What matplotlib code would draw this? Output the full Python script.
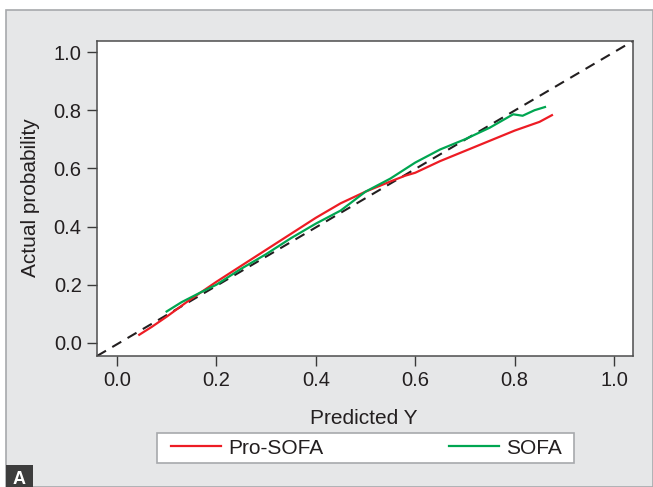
# Calibration plot: Pro-SOFA vs SOFA

import numpy as np
import matplotlib.pyplot as plt
from matplotlib.patches import Rectangle

plt.rcParams['font.family'] = ['Liberation Sans', 'DejaVu Sans']

# values
pro_x = [0.045, 0.07, 0.10, 0.14, 0.17, 0.20, 0.25, 0.30, 0.35, 0.40, 0.45, 0.50, 0.55, 0.58, 0.60, 0.65, 0.70, 0.75, 0.80, 0.85, 0.875]
pro_y = [0.028, 0.055, 0.09, 0.14, 0.175, 0.21, 0.265, 0.32, 0.375, 0.43, 0.48, 0.52, 0.555, 0.575, 0.585, 0.625, 0.66, 0.695, 0.73, 0.76, 0.783]

sofa_x = [0.10, 0.13, 0.17, 0.20, 0.25, 0.30, 0.35, 0.40, 0.45, 0.50, 0.55, 0.60, 0.65, 0.70, 0.75, 0.797, 0.816, 0.84, 0.861]
sofa_y = [0.108, 0.14, 0.175, 0.20, 0.255, 0.305, 0.36, 0.41, 0.455, 0.52, 0.565, 0.62, 0.665, 0.70, 0.74, 0.786, 0.781, 0.80, 0.811]

ticks = [0.0, 0.2, 0.4, 0.6, 0.8, 1.0]
tick_labels = ['0.0', '0.2', '0.4', '0.6', '0.8', '1.0']

W, H = 653, 487
fig = plt.figure(figsize=(W/100, H/100), dpi=100)
fig.patch.set_facecolor('white')

# gray panel behind the chart
panel = Rectangle((6/W, 0), 1 - 6/W, 1 - 10/H, transform=fig.transFigure,
                  facecolor='#e6e7e8', edgecolor='#a7a9ac', linewidth=1.2, zorder=-5)
fig.patches.append(panel)

ax = fig.add_axes([97/W, 1 - 356/H, 536/W, 315/H])
ax.set_facecolor('white')

ax.plot([-0.04, 1.04], [-0.045, 1.04], linestyle=(0, (5, 3.5)), color='#231f20', linewidth=1.5)
l1, = ax.plot(pro_x, pro_y, color='#ed1c24', linewidth=1.6, label='Pro-SOFA')
l2, = ax.plot(sofa_x, sofa_y, color='#00a651', linewidth=1.6, label='SOFA')

ax.set_xlim(-0.04, 1.038)
ax.set_ylim(-0.045, 1.038)
ax.set_xticks(ticks)
ax.set_xticklabels(tick_labels)
ax.set_yticks(ticks)
ax.set_yticklabels(tick_labels)
ax.tick_params(direction='out', length=7, width=1, pad=4, colors='#3a3a3a',
               labelsize=14.5, labelcolor='#231f20')
for s in ax.spines.values():
    s.set_color('#4d4d4d')
    s.set_linewidth(1.1)

# axis titles
fig.text(31/W, 1 - 198/H, 'Actual probability', rotation=90, fontsize=15,
         color='#231f20', ha='center', va='center')
fig.text(364/W, 1 - 423.5/H, 'Predicted Y', fontsize=15, color='#231f20',
         ha='center', va='baseline')

# legend box drawn separately so the entries can sit inset from its edge
fig.patches.append(Rectangle((157/W, 1 - 463/H), 417/W, 30/H, transform=fig.transFigure,
                             facecolor='white', edgecolor='#a7a9ac', linewidth=1.2, zorder=1))
leg = fig.legend(handles=[l1, l2], loc='center', ncol=2, mode='expand',
                 bbox_to_anchor=(167/W, 1 - 463/H, 399/W, 30/H),
                 frameon=False, fontsize=15, handlelength=2.4, handletextpad=0.35,
                 borderaxespad=0, borderpad=0.2)
leg.set_zorder(2)
for t in leg.get_texts():
    t.set_color('#231f20')

# panel letter
fig.patches.append(Rectangle((6/W, 0), 27/W, 22/H, transform=fig.transFigure,
                             facecolor='#3d3d3d', edgecolor='none', zorder=1))
fig.text(19.5/W, 3/H, 'A', color='white', fontsize=13, fontweight='bold',
         ha='center', va='baseline')

fig.savefig('out.png', dpi=100)
